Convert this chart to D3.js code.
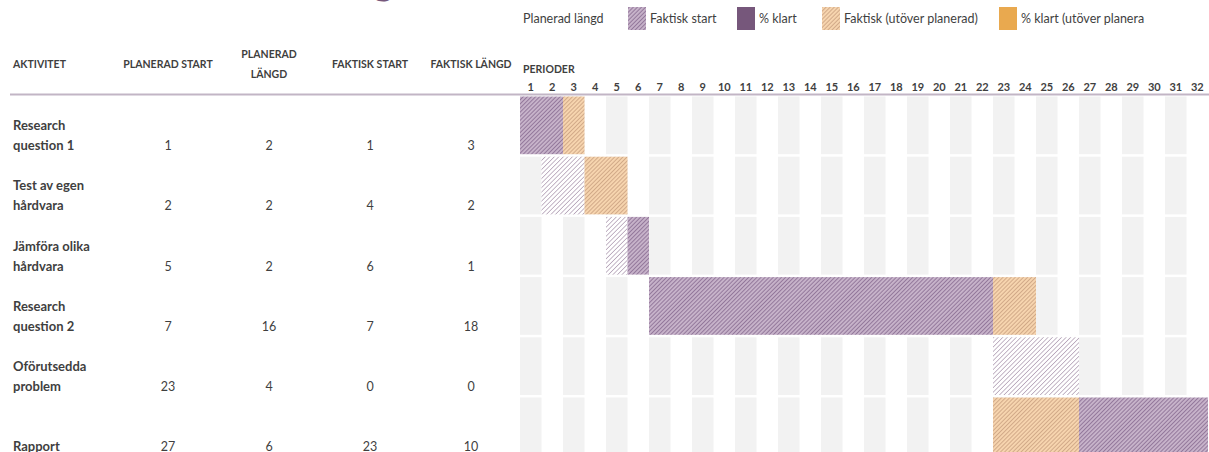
<!DOCTYPE html>
<html>
<head>
<meta charset="utf-8">
<script src="https://cdn.jsdelivr.net/npm/d3@7/dist/d3.min.js"></script>
<style>
  html, body { margin: 0; padding: 0; background: #fff; }
  svg { display: block; font-family: Lato, "Open Sans", sans-serif; }
</style>
</head>
<body>
<svg id="chart" width="1209" height="452"></svg>
<script>
// Activities and their schedule (periods)
const activities = ["Research question 1", "Test av egen hårdvara", "Jämföra olika hårdvara",
                    "Research question 2", "Oförutsedda problem", "Rapport"];
const planStart  = [1, 2, 5, 7, 23, 27];
const planLength = [2, 2, 2, 16, 4, 6];
const actStart   = [1, 4, 6, 7, 0, 23];
const actLength  = [3, 2, 1, 18, 0, 10];
const pctDone    = [0, 0, 0, 0, 0, 0];

const periods = d3.range(1, 33);
const columnHeaders = ["PLANERAD START", "PLANERAD LÄNGD", "FAKTISK START", "FAKTISK LÄNGD"];
const columnValues = [planStart, planLength, actStart, actLength];
const legendItems = [
  { label: "Planerad längd", kind: null },
  { label: "Faktisk start", kind: "actual" },
  { label: "% klart", kind: "done" },
  { label: "Faktisk (utöver planerad)", kind: "beyond" },
  { label: "% klart (utöver planera", kind: "doneBeyond" }
];

const C = {
  text: "#3f3f3f",
  purple: "#76577b",
  orange: "#e9a94f",
  stripe: "#f2f2f2",
  rule: "#c2b5c5"
};

const svg = d3.select("#chart");
const defs = svg.append("defs");

// Diagonal hatch fills
function hatch(id, bg, line, size, width) {
  const p = defs.append("pattern")
    .attr("id", id)
    .attr("patternUnits", "userSpaceOnUse")
    .attr("width", size).attr("height", size)
    .attr("patternTransform", "rotate(45)");
  p.append("rect").attr("width", size).attr("height", size).attr("fill", bg);
  p.append("line").attr("x1", 0).attr("y1", 0).attr("x2", 0).attr("y2", size)
    .attr("stroke", line).attr("stroke-width", width);
}
hatch("h-plan", "#ffffff", "#9f89a3", 3.2, 1.2);
hatch("h-actual", "#c6b2c9", "#80628a", 2.9, 1.4);
hatch("h-beyond", "#f6d4ae", "#c3987a", 2.9, 1.4);

const fills = {
  plan: "url(#h-plan)",
  actual: "url(#h-actual)",
  beyond: "url(#h-beyond)",
  done: C.purple,
  doneBeyond: C.orange
};

// Scales
const x = d3.scaleBand().domain(periods).range([520, 1208]).paddingInner(0);
const y = d3.scaleBand().domain(activities).range([95, 95 + 60.2 * activities.length]);
const colX = d3.scalePoint().domain(columnHeaders).range([168, 471]);

// Title (runs above the visible area)
svg.append("text")
  .attr("x", 394).attr("y", -6)
  .attr("text-anchor", "end")
  .attr("font-size", 40).attr("font-weight", 700)
  .attr("fill", C.purple)
  .text("Examensarbete – Planering");

// Legend
const legend = svg.append("g").attr("font-size", 12.5).attr("fill", C.text);
const legendX = [523, 628, 737, 822, 999];
legendItems.forEach((d, i) => {
  let tx = legendX[i];
  if (d.kind) {
    legend.append("rect").attr("x", legendX[i]).attr("y", 7)
      .attr("width", 18).attr("height", 23).attr("fill", fills[d.kind]);
    tx += 22;
  }
  legend.append("text").attr("x", tx).attr("y", 23).text(d.label);
});

// Table header
const head = svg.append("g").attr("font-size", 10.5).attr("font-weight", 700).attr("fill", C.text);
head.append("text").attr("x", 13).attr("y", 68).text("AKTIVITET");
columnHeaders.forEach(h => {
  const t = head.append("text").attr("x", colX(h)).attr("text-anchor", "middle");
  if (h === "PLANERAD LÄNGD") {
    t.append("tspan").attr("x", colX(h)).attr("y", 58).text("PLANERAD");
    t.append("tspan").attr("x", colX(h)).attr("y", 78).text("LÄNGD");
  } else {
    t.attr("y", 68).text(h);
  }
});
head.append("text").attr("x", 523).attr("y", 73).text("PERIODER");

// Period axis
const axis = svg.append("g").attr("transform", "translate(0,91)")
  .call(d3.axisTop(x).tickSize(0).tickPadding(0));
axis.select(".domain").remove();
axis.selectAll("text")
  .attr("font-size", 11).attr("font-weight", 700)
  .attr("fill", C.text).attr("font-family", "Lato, sans-serif");

// Rule under header
svg.append("line").attr("x1", 10).attr("x2", 1209).attr("y1", 94.5).attr("y2", 94.5)
  .attr("stroke", C.rule).attr("stroke-width", 2);

// Column stripes per row
const grid = svg.append("g");
activities.forEach(a => {
  grid.selectAll(null)
    .data(periods.filter(p => p % 2 === 1))
    .enter().append("rect")
    .attr("x", p => x(p)).attr("width", x.bandwidth())
    .attr("y", y(a) + 1.5).attr("height", y.bandwidth() - 2.5)
    .attr("fill", C.stripe);
});

// Bars: classify each period, then merge runs of the same kind
const bars = svg.append("g");
activities.forEach((a, i) => {
  const kinds = periods.map(p => {
    const inPlan = p >= planStart[i] && p < planStart[i] + planLength[i];
    const inAct = actStart[i] > 0 && p >= actStart[i] && p < actStart[i] + actLength[i];
    const doneEnd = actStart[i] + actLength[i] * pctDone[i] / 100;
    const inDone = inAct && p < doneEnd;
    if (inDone) return inPlan ? "done" : "doneBeyond";
    if (inAct) return inPlan ? "actual" : "beyond";
    if (inPlan) return "plan";
    return null;
  });
  const runs = [];
  kinds.forEach((k, j) => {
    if (!k) return;
    const last = runs[runs.length - 1];
    if (last && last.kind === k && last.end === periods[j] - 1) last.end = periods[j];
    else runs.push({ kind: k, start: periods[j], end: periods[j] });
  });
  bars.selectAll(null).data(runs).enter().append("rect")
    .attr("x", r => x(r.start))
    .attr("width", r => x(r.end) + x.bandwidth() - x(r.start))
    .attr("y", y(a) + 1.5).attr("height", y.bandwidth() - 2.5)
    .attr("fill", r => fills[r.kind]);
});

// Activity names (wrapped) and values
const body = svg.append("g").attr("fill", C.text);
activities.forEach((a, i) => {
  const base = y(a) + y.bandwidth() - 5;
  const words = a.split(" ");
  const lines = [];
  let cur = "";
  words.forEach(w => {
    const test = cur ? cur + " " + w : w;
    if (cur && test.length > 13) { lines.push(cur); cur = w; } else cur = test;
  });
  lines.push(cur);
  const t = body.append("text").attr("font-size", 13).attr("font-weight", 700);
  lines.forEach((ln, k) => {
    t.append("tspan").attr("x", 13).attr("y", base - (lines.length - 1 - k) * 20).text(ln);
  });
  columnHeaders.forEach((h, c) => {
    body.append("text").attr("x", colX(h)).attr("y", base)
      .attr("text-anchor", "middle").attr("font-size", 12.5)
      .text(columnValues[c][i]);
  });
});
</script>
</body>
</html>
